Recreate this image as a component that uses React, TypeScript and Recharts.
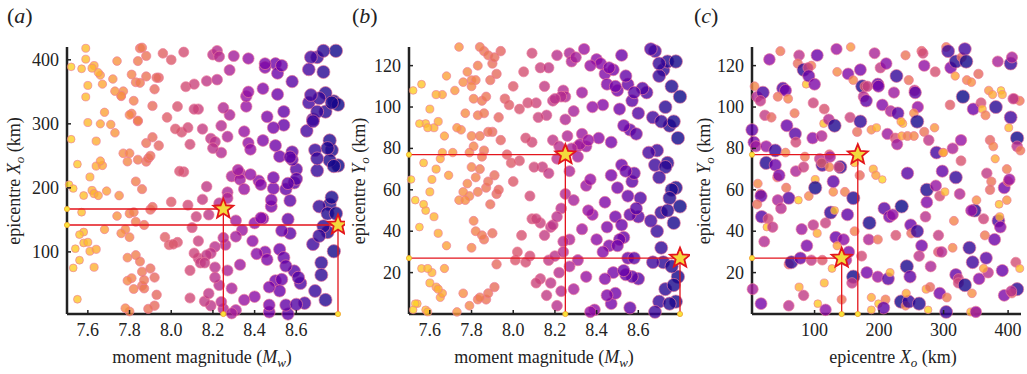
import React from "react";
import { ScatterChart, Scatter, XAxis, YAxis } from "recharts";

// ── Data ──────────────────────────────────────────────────────────────────────
// Epicentres [X (km), Y (km), Mw]; Mw.
const quakes: [number, number, number][] = [
  [30,123,8.4],[47,127,7.86],[76,125,8.21],[74,121,7.9],[83,118,8.72],[95,120,7.83],
  [104,125,8.52],[90,119,8.13],[134,128,8.34],[135,117,7.78],[156,129,7.74],[152,116,8.44],
  [160,113,7.8],[171,118,8.48],[174,110,8.76],[178,110,8.0],[193,126,8.27],[198,111,8.55],
  [202,119,8.17],[211,121,8.42],[241,125,7.88],[227,115,8.7],[223,107,8.33],[255,108,8.24],
  [266,127,7.94],[268,126,8.09],[270,120,8.37],[287,117,8.05],[304,129,7.84],[307,127,8.68],
  [311,119,8.46],[318,115,7.68],[319,122,8.74],[328,124,7.91],[333,128,8.66],[335,122,8.78],
  [336,113,7.82],[343,112,7.76],[354,116,7.92],[384,122,8.28],[404,121,8.7],[406,124,8.3],
  [370,108,7.72],[376,106,7.66],[410,104,7.96],[418,103,7.85],[7,110,7.8],[11,105,8.25],
  [20,107,8.64],[16,103,8.19],[51,109,8.62],[55,108,8.5],[43,105,7.87],[59,104,7.81],
  [87,111,7.56],[91,115,8.54],[100,111,8.45],[98,102,8.11],[115,99,8.03],[176,105,8.23],
  [182,110,8.15],[180,103,8.57],[199,110,8.49],[205,101,8.43],[218,98,8.29],[229,97,8.6],
  [246,113,7.89],[256,107,8.58],[260,100,8.38],[254,97,7.77],[310,101,7.98],[330,105,8.8],
  [346,99,8.51],[358,102,8.07],[360,99,7.6],[365,96,7.83],[381,100,8.73],[389,108,7.52],
  [391,106,7.63],[404,95,8.67],[408,104,8.2],[3,89,8.56],[6,83,8.47],[9,81,8.31],
  [23,96,8.16],[33,95,7.93],[25,81,8.35],[39,79,8.69],[55,78,7.79],[57,91,8.53],
  [69,97,7.86],[70,87,8.59],[71,83,8.09],[97,85,8.41],[111,86,8.26],[114,92,7.58],
  [122,94,8.25],[131,91,8.75],[123,77,7.97],[155,95,8.12],[166,88,7.9],[171,93,8.71],
  [188,89,7.75],[196,90,7.62],[213,87,8.33],[225,85,8.06],[228,82,8.32],[237,92,7.55],
  [234,93,7.64],[235,86,7.67],[244,86,7.84],[254,86,7.8],[259,93,8.77],[270,88,7.88],
  [277,84,8.19],[286,90,7.73],[289,78,8.65],[299,78,7.71],[314,80,8.28],[327,84,8.36],
  [327,74,8.03],[372,84,7.94],[377,81,7.81],[380,75,7.65],[401,90,7.59],[414,85,8.79],
  [414,81,8.22],[419,79,7.86],[12,63,7.78],[16,58,7.92],[17,57,8.55],[25,73,8.74],
  [39,72,8.52],[42,66,7.82],[45,67,8.47],[56,61,7.87],[60,56,8.61],[71,69,8.27],
  [75,55,7.53],[83,71,8.14],[85,76,7.85],[91,57,7.79],[101,65,7.61],[101,61,8.78],
  [108,75,8.21],[112,72,8.68],[111,73,7.99],[123,71,7.8],[124,76,8.31],[129,59,7.76],
  [129,64,8.57],[140,71,8.73],[138,71,8.1],[147,59,7.83],[162,73,7.57],[170,67,7.91],
  [191,70,7.63],[195,67,7.69],[205,65,7.51],[244,68,8.58],[274,60,8.76],[274,54,8.44],
  [288,62,8.35],[294,57,8.08],[298,69,8.54],[300,78,7.66],[302,59,7.6],[319,66,8.7],
  [325,58,8.25],[367,68,8.17],[374,64,7.88],[372,60,7.93],[398,70,7.84],[394,61,8.5],
  [400,64,8.0],[402,65,8.37],[398,55,7.74],[11,53,7.89],[18,47,8.6],[28,46,8.09],
  [26,42,7.55],[35,42,8.18],[43,55,8.29],[48,51,8.23],[80,41,8.33],[88,33,8.46],
  [98,43,8.19],[104,39,7.64],[117,44,8.13],[125,49,8.71],[131,50,7.58],[133,37,8.53],
  [145,36,8.4],[151,48,8.56],[160,56,8.75],[185,44,8.77],[184,36,8.27],[198,36,7.86],
  [208,51,8.59],[216,47,8.49],[221,48,8.38],[226,38,8.04],[235,52,8.8],[249,43,8.52],
  [250,39,7.9],[259,40,8.69],[272,47,8.21],[292,38,8.15],[316,45,7.81],[348,50,8.74],
  [351,55,7.77],[362,46,8.11],[364,38,7.85],[379,36,8.51],[385,45,8.66],[388,42,8.45],
  [387,47,7.62],[386,53,7.57],[343,50,8.36],[22,35,8.24],[60,24,7.92],[64,25,8.72],
  [78,27,8.55],[95,26,8.17],[112,26,8.01],[127,22,7.56],[135,33,7.68],[149,26,8.31],
  [153,30,8.43],[160,18,8.79],[162,40,7.82],[173,28,8.08],[181,20,8.48],[198,18,8.35],
  [214,17,8.6],[217,20,7.61],[243,23,8.76],[248,18,8.57],[266,33,8.5],[262,28,8.2],
  [280,23,8.27],[292,30,8.02],[297,30,8.24],[314,32,7.8],[319,19,8.54],[323,17,8.13],
  [340,32,8.71],[345,25,8.67],[355,17,8.44],[366,27,8.58],[369,20,8.22],[362,22,7.67],
  [391,21,8.53],[412,25,8.06],[418,22,7.59],[414,12,8.73],[4,12,8.29],[17,5,8.47],
  [60,4,8.21],[76,13,7.63],[83,9,8.16],[105,5,7.54],[115,15,7.6],[117,2,8.39],
  [142,7,7.87],[158,15,8.18],[188,8,7.65],[188,2,7.58],[199,5,7.53],[210,7,7.83],
  [207,3,8.56],[234,6,8.78],[241,4,7.79],[246,6,8.7],[242,10,7.66],[262,5,8.75],
  [276,2,7.52],[273,12,7.64],[279,13,7.91],[294,10,8.49],[305,8,7.84],[304,1,8.68],
  [323,15,8.11],[333,14,8.77],[344,10,7.76],[342,1,7.59],[351,1,7.73],[350,1,8.37],
  [394,9,8.45],[406,10,7.88],[405,11,8.23],
];

// the two highlighted events (stars)
const starMw = [8.25, 8.8];
const starX = [167, 142];
const starY = [77, 27];

const mwTicks = [7.6, 7.8, 8.0, 8.2, 8.4, 8.6];
const kmXTicks = [100, 200, 300, 400];
const kmYTicks = [20, 40, 60, 80, 100, 120];

const MW_DOMAIN: [number, number] = [7.5, 8.8];
const X_DOMAIN: [number, number] = [3, 420];
const Y_DOMAIN: [number, number] = [0, 129];

// ── Style ─────────────────────────────────────────────────────────────────────

const FONT = "'Liberation Serif', 'DejaVu Serif', serif";
const INK = "#222";
const RED = "#e3151c";
const PLOT_TOP = 47;
const PLOT_BOTTOM = 314;
const H = 374;
const AXIS_W = 30;

const PLASMA = [
  "#0d0887", "#41049d", "#6a00a8", "#8f0da4", "#b12a90", "#cc4778",
  "#e16462", "#f2844b", "#fca636", "#fcce25", "#f0f921",
];

function hexRgb(h: string) {
  return [1, 3, 5].map((i) => parseInt(h.slice(i, i + 2), 16));
}

function plasma(t: number) {
  const c = Math.max(0, Math.min(1, t)) * 10;
  const i = Math.min(9, Math.floor(c));
  const f = c - i;
  const a = hexRgb(PLASMA[i]);
  const b = hexRgb(PLASMA[i + 1]);
  const rgb = a.map((v, k) => Math.round(v + (b[k] - v) * f));
  return `rgb(${rgb.join(",")})`;
}

const colourFor = (m: number) => plasma((0.92 * (8.8 - m)) / 1.3);
const radiusFor = (m: number) => 3.8 + 2.9 * ((m - 7.5) / 1.3);

const points = quakes.map(([x, y, m]) => ({ x, y, m }));
const stars = starMw.map((m, i) => ({ m, x: starX[i], y: starY[i] }));

// ── Shapes ────────────────────────────────────────────────────────────────────

function Dot(p: any) {
  const m = p.payload.m;
  return (
    <circle
      cx={p.cx}
      cy={p.cy}
      r={radiusFor(m)}
      fill={colourFor(m)}
      fillOpacity={0.8}
      stroke="#ee7d9b"
      strokeOpacity={0.65}
      strokeWidth={1}
    />
  );
}

function EndDot(p: any) {
  return <circle cx={p.cx} cy={p.cy} r={2.6} fill="#f9e43a" stroke="#f0a030" strokeWidth={0.8} />;
}

function Star(p: any) {
  const pts: string[] = [];
  for (let k = 0; k < 10; k++) {
    const r = k % 2 === 0 ? 10.5 : 4.6;
    const a = -Math.PI / 2 + (k * Math.PI) / 5;
    pts.push(`${p.cx + r * Math.cos(a)},${p.cy + r * Math.sin(a)}`);
  }
  return <polygon points={pts.join(" ")} fill="#f3d93c" stroke={RED} strokeWidth={1.8} />;
}

const Nothing = () => <g />;

// ── Panel ─────────────────────────────────────────────────────────────────────

type Key = "m" | "x" | "y";

interface PanelProps {
  left: number;
  width: number;
  plotLeft: number;
  plotWidth: number;
  xKey: Key;
  yKey: Key;
  xDomain: [number, number];
  yDomain: [number, number];
  xTicks: number[];
  yTicks: number[];
  fmtX: (v: number) => string;
}

function Panel({ left, width, plotLeft, plotWidth, xKey, yKey, xDomain, yDomain, xTicks, yTicks, fmtX }: PanelProps) {
  // L-shaped guides: left axis -> star -> bottom axis
  const guides = stars.map((s) => [
    { ...s, [xKey]: xDomain[0] },
    { ...s },
    { ...s, [yKey]: yDomain[0] },
  ]);
  const ends = guides.flatMap((g) => [g[0], g[2]]);

  const XTick = (p: any) => (
    <g>
      <line x1={p.x} x2={p.x} y1={PLOT_BOTTOM} y2={PLOT_BOTTOM - 4} stroke={INK} strokeWidth={1.5} />
      <text x={p.x} y={336} textAnchor="middle" fontSize={18} fontFamily={FONT} fill={INK}>
        {fmtX(p.payload.value)}
      </text>
    </g>
  );
  const YTick = (p: any) => (
    <g>
      <line x1={plotLeft} x2={plotLeft + 4} y1={p.y} y2={p.y} stroke={INK} strokeWidth={1.5} />
      <text x={plotLeft - 8} y={p.y + 6} textAnchor="end" fontSize={18} fontFamily={FONT} fill={INK}>
        {p.payload.value}
      </text>
    </g>
  );

  return (
    <div style={{ position: "absolute", left, top: 0 }}>
      <ScatterChart
        width={width}
        height={H}
        margin={{
          top: PLOT_TOP,
          bottom: H - PLOT_BOTTOM - AXIS_W,
          left: plotLeft - AXIS_W,
          right: width - plotLeft - plotWidth,
        }}
      >
        <XAxis
          type="number"
          dataKey={xKey}
          domain={xDomain}
          ticks={xTicks}
          interval={0}
          height={AXIS_W}
          axisLine={{ stroke: INK, strokeWidth: 2.5 }}
          tickLine={false}
          tick={XTick}
        />
        <YAxis
          type="number"
          dataKey={yKey}
          domain={yDomain}
          ticks={yTicks}
          interval={0}
          width={AXIS_W}
          axisLine={{ stroke: INK, strokeWidth: 2.5 }}
          tickLine={false}
          tick={YTick}
        />
        <Scatter data={points} shape={Dot} isAnimationActive={false} />
        {guides.map((g, i) => (
          <Scatter
            key={i}
            data={g}
            line={{ stroke: RED, strokeWidth: 1.3 }}
            shape={Nothing}
            isAnimationActive={false}
          />
        ))}
        <Scatter data={ends} shape={EndDot} isAnimationActive={false} />
        <Scatter data={stars} shape={Star} isAnimationActive={false} />
      </ScatterChart>
    </div>
  );
}

// ── Labels ────────────────────────────────────────────────────────────────────

function YLabel({ x, sym }: { x: number; sym: string }) {
  return (
    <text x={x} y={181} transform={`rotate(-90 ${x} 181)`} textAnchor="middle" fontSize={18} fontFamily={FONT} fill={INK}>
      <tspan>epicentre </tspan>
      <tspan fontStyle="italic">{sym}</tspan>
      <tspan fontStyle="italic" fontSize={13} dy={4}>o</tspan>
      <tspan dy={-4}> (km)</tspan>
    </text>
  );
}

function MwLabel({ x }: { x: number }) {
  return (
    <text x={x} y={363} textAnchor="middle" fontSize={18} fontFamily={FONT} fill={INK}>
      <tspan>moment magnitude (</tspan>
      <tspan fontStyle="italic">M</tspan>
      <tspan fontStyle="italic" fontSize={13} dy={4}>w</tspan>
      <tspan dy={-4}>)</tspan>
    </text>
  );
}

export default function App() {
  const f1 = (v: number) => v.toFixed(1);
  const f0 = (v: number) => String(v);
  return (
    <div style={{ position: "absolute", left: 0, top: 0, width: 1027, height: H, background: "#fff", overflow: "hidden" }}>
      <Panel left={0} width={345} plotLeft={67} plotWidth={271} xKey="m" yKey="x"
        xDomain={MW_DOMAIN} yDomain={X_DOMAIN} xTicks={mwTicks} yTicks={kmXTicks} fmtX={f1} />
      <Panel left={345} width={345} plotLeft={64} plotWidth={271} xKey="m" yKey="y"
        xDomain={MW_DOMAIN} yDomain={Y_DOMAIN} xTicks={mwTicks} yTicks={kmYTicks} fmtX={f1} />
      <Panel left={690} width={337} plotLeft={62} plotWidth={269} xKey="x" yKey="y"
        xDomain={X_DOMAIN} yDomain={Y_DOMAIN} xTicks={kmXTicks} yTicks={kmYTicks} fmtX={f0} />

      <svg width={1027} height={H} style={{ position: "absolute", left: 0, top: 0, pointerEvents: "none" }}>
        <text x={7} y={23} fontSize={22} fontFamily={FONT} fill={INK}>(<tspan fontStyle="italic">a</tspan>)</text>
        <text x={352} y={23} fontSize={22} fontFamily={FONT} fill={INK}>(<tspan fontStyle="italic">b</tspan>)</text>
        <text x={694} y={23} fontSize={22} fontFamily={FONT} fill={INK}>(<tspan fontStyle="italic">c</tspan>)</text>

        <YLabel x={20} sym="X" />
        <YLabel x={365} sym="Y" />
        <YLabel x={710} sym="Y" />

        <MwLabel x={202} />
        <MwLabel x={544} />
        <text x={893} y={363} textAnchor="middle" fontSize={18} fontFamily={FONT} fill={INK}>
          <tspan>epicentre </tspan>
          <tspan fontStyle="italic">X</tspan>
          <tspan fontStyle="italic" fontSize={13} dy={4}>o</tspan>
          <tspan dy={-4}> (km)</tspan>
        </text>
      </svg>
    </div>
  );
}
